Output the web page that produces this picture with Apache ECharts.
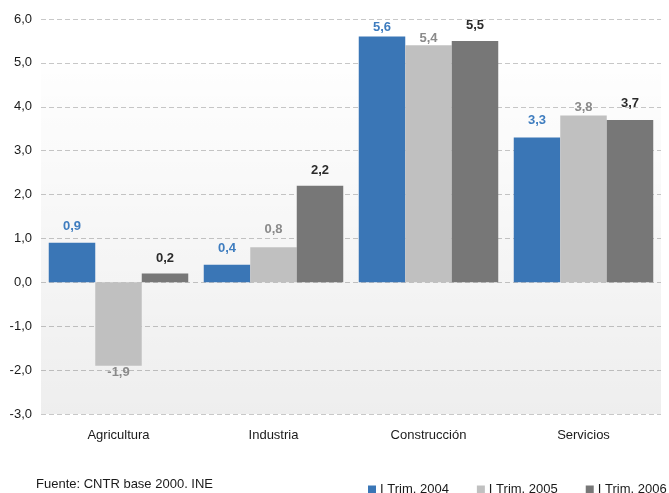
<!DOCTYPE html>
<html>
<head>
<meta charset="utf-8">
<script src="https://cdn.jsdelivr.net/npm/echarts@6/dist/echarts.min.js"></script>
<style>html,body{margin:0;padding:0;background:#fff}#c{width:669px;height:493px}</style>
</head>
<body>
<div id="c"></div>
<script>
const categories = ['Agricultura', 'Industria', 'Construcción', 'Servicios'];
const seriesNames = ['I Trim. 2004', 'I Trim. 2005', 'I Trim. 2006'];
const trim2004 = [0.9, 0.4, 5.6, 3.3];
const trim2005 = [-1.9, 0.8, 5.4, 3.8];
const trim2006 = [0.2, 2.2, 5.5, 3.7];
const yTicks = [-3, -2, -1, 0, 1, 2, 3, 4, 5, 6];
const sourceNote = 'Fuente: CNTR base 2000. INE';

// label placement tweaks (style only)
const labelDist = [
  [10, 10, 3, 11],
  [0, 11, 0, 2],
  [9, 9, 9, 10]
];
const barColors = ['#3a76b6', '#c0c0c0', '#777777'];
const labelColors = ['#3f7dbf', '#8a8a8a', '#2b2b2b'];
const fmt = v => v.toFixed(1).replace('.', ',');
const font = '"Liberation Sans", Arial, sans-serif';

const values = [trim2004, trim2005, trim2006];
const series = values.map((arr, s) => ({
  name: seriesNames[s],
  type: 'bar',
  barGap: '0%',
  barCategoryGap: '10%',
  itemStyle: { color: barColors[s] },
  label: {
    show: true,
    position: 'top',
    fontFamily: font,
    fontSize: 13,
    fontWeight: 'bold',
    color: labelColors[s],
    formatter: p => fmt(p.value)
  },
  data: arr.map((v, i) => ({
    value: v,
    label: v < 0 ? { position: 'bottom', distance: 0 } : { distance: labelDist[s][i] }
  })),
  markArea: s === 0 ? {
    silent: true,
    z: 0,
    itemStyle: {
      color: {
        type: 'linear', x: 0, y: 0, x2: 0, y2: 1,
        colorStops: [
          { offset: 0, color: 'rgba(0,0,0,0.005)' },
          { offset: 1, color: 'rgba(0,0,0,0.065)' }
        ]
      }
    },
    data: [[{ yAxis: 5 }, { yAxis: -3 }]]
  } : undefined
}));

const chart = echarts.init(document.getElementById('c'), null, { renderer: 'canvas' });
chart.setOption({
  animation: false,
  backgroundColor: '#ffffff',
  grid: { left: 41, right: 8, top: 19, bottom: 79, containLabel: false },
  xAxis: {
    type: 'category',
    data: categories,
    axisLine: { show: false },
    axisTick: { show: false },
    axisLabel: { fontFamily: font, fontSize: 13, color: '#1a1a1a', margin: 15 }
  },
  yAxis: {
    type: 'value',
    min: yTicks[0],
    max: yTicks[yTicks.length - 1],
    interval: 1,
    axisLine: { show: false },
    axisTick: { show: false },
    axisLabel: { fontFamily: font, fontSize: 13, color: '#1a1a1a', margin: 9, formatter: v => fmt(v) },
    splitLine: { show: true, lineStyle: { color: '#c8c8c8', type: [5, 3], width: 1 } }
  },
  legend: {
    data: seriesNames,
    left: 368,
    top: 483,
    itemWidth: 8,
    itemHeight: 8,
    itemGap: 28,
    icon: 'rect',
    textStyle: { fontFamily: font, fontSize: 13, color: '#1a1a1a', padding: [0, 0, 0, -1] },
    padding: 0
  },
  graphic: [{
    type: 'text',
    left: 36,
    top: 478,
    style: { text: sourceNote, font: '13px ' + font, fill: '#1a1a1a' }
  }],
  series: series
});
</script>
</body>
</html>
